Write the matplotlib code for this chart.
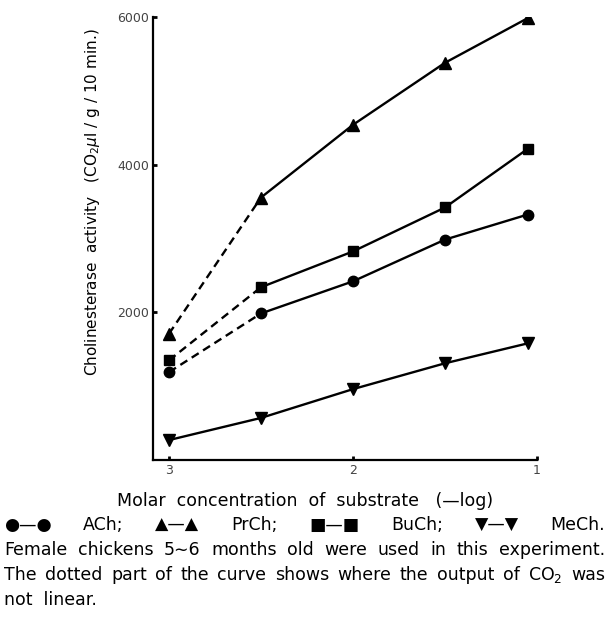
import matplotlib
matplotlib.use("Agg")
import matplotlib.pyplot as plt

plt.rcParams['font.family'] = ['DejaVu Sans']
plt.rcParams['mathtext.fontset'] = 'dejavusans'

# Data (x = -log molar concentration)
x = [3.0, 2.5, 2.0, 1.5, 1.05]
ach = [1190, 1985, 2420, 2985, 3325]
prch = [1710, 3555, 4540, 5380, 5985]
buch = [1350, 2340, 2825, 3420, 4215]
mech = [270, 570, 960, 1310, 1580]
series = [("ACh", ach, "o", True), ("PrCh", prch, "^", True),
          ("BuCh", buch, "s", True), ("MeCh", mech, "v", False)]
yticks = [2000, 4000, 6000]
xticks = [3, 2, 1]

W, H = 608, 630
fig = plt.figure(figsize=(W / 100, H / 100), dpi=100)
ax = fig.add_axes([153 / W, 1 - 460 / H, (537 - 153) / W, (460 - 17) / H])

msize = {"o": 7.5, "^": 8.5, "s": 6.5, "v": 8.5}
for name, ys, m, dashed_start in series:
    if dashed_start:
        ax.plot(x[:2], ys[:2], ls=(0, (3.5, 2.2)), color='black', lw=1.7)
        ax.plot(x[1:], ys[1:], ls='-', color='black', lw=1.7)
    else:
        ax.plot(x, ys, ls='-', color='black', lw=1.7)
    ax.plot(x, ys, ls='none', marker=m, ms=msize[m], color='black', mec='black')

ax.set_xlim(3.087, 1.0)
ax.set_ylim(0, 6000)
ax.set_xticks(xticks)
ax.set_xticklabels([str(t) for t in xticks])
ax.set_yticks(yticks)
ax.set_yticklabels([str(t) for t in yticks])
for s in ['top', 'right']:
    ax.spines[s].set_visible(False)
for s in ['left', 'bottom']:
    ax.spines[s].set_linewidth(1.6)
ax.tick_params(axis='both', direction='in', length=3, width=2, labelsize=9,
               labelcolor='#444444', pad=3)

fig.text(93 / W, 1 - 202 / H,
         r"Cholinesterase  activity   (CO$_2$$\mu$l / g / 10 min.)",
         rotation=90, ha='center', va='center', fontsize=11)
fig.text(305 / W, 1 - 501 / H, "Molar  concentration  of  substrate   (—log)",
         ha='center', va='center', fontsize=12.5)

lines = [
    ["●—●", "ACh;", "▲—▲", "PrCh;", "■—■", "BuCh;", "▼—▼", "MeCh."],
    ["Female", "chickens", "5∼6", "months", "old", "were", "used", "in", "this",
     "experiment."],
    ["The", "dotted", "part", "of", "the", "curve", "shows", "where", "the",
     "output", "of", r"CO$_2$", "was"],
]
ys_px = [525, 550, 575]
x0, x1 = 4, 605
fig.canvas.draw()
r = fig.canvas.get_renderer()
for words, yp in zip(lines, ys_px):
    texts = [fig.text(0, 1 - yp / H, w, ha='left', va='center', fontsize=12.5)
             for w in words]
    widths = [t.get_window_extent(r).width for t in texts]
    gap = (x1 - x0 - sum(widths)) / (len(words) - 1)
    pos = x0
    for t, wd in zip(texts, widths):
        t.set_x(pos / W)
        pos += wd + gap
fig.text(x0 / W, 1 - 600 / H, "not  linear.", ha='left', va='center', fontsize=12.5)

fig.savefig("out.png", dpi=100)
